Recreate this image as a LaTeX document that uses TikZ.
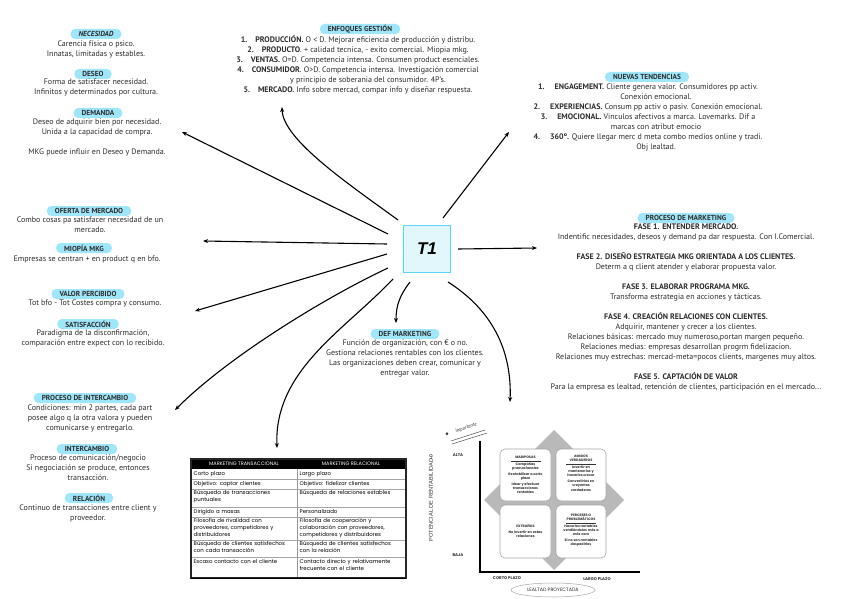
\documentclass[tikz,border=0pt]{standalone}
\usepackage{fontspec}
\setmainfont{PT Sans}
\newfontfamily\tabfont{Poppins}
\newfontfamily\tfont{Liberation Sans}
\usetikzlibrary{arrows.meta}
\definecolor{pillc}{RGB}{160,230,250}
\definecolor{tbord}{RGB}{95,215,240}
\definecolor{tfill}{RGB}{225,247,252}
\definecolor{txt}{RGB}{45,45,45}
\tikzset{
 pill/.style={fill=pillc, rounded corners=4.5pt, minimum height=10pt, inner xsep=8pt, inner ysep=0pt, text=txt, font=\fontsize{7.3}{8}\selectfont\bfseries},
 body/.style={align=center, font=\fontsize{8}{10}\selectfont, inner sep=0pt, anchor=north, text=txt},
 arr/.style={-{Stealth[length=5pt,width=4pt]}, line width=1.1pt},
 cell/.style={anchor=north west, inner sep=0pt, align=left, text width=104pt, font=\tabfont\fontsize{5.4}{7}\selectfont, text=black},
 head/.style={inner sep=0pt, font=\tabfont\fontsize{5}{6}\selectfont, text=white},
 quad/.style={fill=white, draw=gray!70, line width=0.6pt, rounded corners=5pt},
 qtxt/.style={align=center, inner sep=0pt, font=\tabfont\bfseries\fontsize{3.4}{4.2}\selectfont, text=black!80},
 axl/.style={inner sep=0pt, font=\tabfont\bfseries\fontsize{4}{5}\selectfont, text=black!80},
}
\begin{document}
\begin{tikzpicture}[x=1pt,y=-1pt]
\useasboundingbox[fill=white] (0,0) rectangle (848,599);

% ---------- centre ----------
\node[draw=tbord, fill=tfill, line width=1.6pt, minimum size=47pt, inner sep=0pt] (t1) at (427,249) {\tfont\bfseries\itshape\fontsize{17}{17}\selectfont T1};

% ---------- left column ----------
\node[pill] (nec) at (96,34) {\itshape NECESIDAD};
\node[body] (necb) at (96,41) {Carencia física o psico.\\Innatas, limitadas y estables.};
\node[pill] (des) at (93,74) {DESEO};
\node[body] (desb) at (96,79) {Forma de satisfacer necesidad.\\Infinitos y determinados por cultura.};
\node[pill] (dem) at (98,113) {DEMANDA};
\node[body] (demb) at (97,119) {Deseo de adquirir bien por necesidad.\\Unida a la capacidad de compra.\\[10pt]MKG puede influir en Deseo y Demanda.};

\node[pill] (ofe) at (89,211) {OFERTA DE MERCADO};
\node[body] (ofeb) at (90,217) {Combo cosas pa satisfacer necesidad de un\\mercado.};
\node[pill] (mio) at (84,248) {MIOPÍA MKG};
\node[body] (miob) at (87,256) {Empresas se centran + en product q en bfo.};

\node[pill] (val) at (88,294) {VALOR PERCIBIDO};
\node[body] (valb) at (95,300) {Tot bfo - Tot Costes compra y consumo.};
\node[pill] (sat) at (88,324) {SATISFACCIÓN};
\node[body] (satb) at (93,330) {Paradigma de la disconfirmación,\\comparación entre expect con lo recibido.};

\node[pill] (pin) at (85,398) {PROCESO DE INTERCAMBIO};
\node[body] (pinb) at (90,405) {Condiciones: min 2 partes, cada part\\posee algo q la otra valora y pueden\\comunicarse y entregarlo.};
\node[pill] (int) at (87,449) {INTERCAMBIO};
\node[body] (intb) at (88,455) {Proceso de comunicación/negocio\\Si negociación se produce, entonces\\transacción.};
\node[pill] (rel) at (89,498) {RELACIÓN};
\node[body] (relb) at (88,505) {Continuo de transacciones entre client y\\proveedor.};

% ---------- top centre ----------
\node[pill] (enf) at (360,29) {ENFOQUES GESTIÓN};
\node[body] (enfb) at (358,35) {\textbf{1.}\hspace{8pt}\textbf{PRODUCCIÓN.} O < D. Mejorar eficiencia de producción y distribu.\\
\textbf{2.}\hspace{8pt}\textbf{PRODUCTO}. + calidad tecnica, - exito comercial. Miopia mkg.\\
\textbf{3.}\hspace{8pt}\textbf{VENTAS.} O=D. Competencia intensa. Consumen product esenciales.\\
\textbf{4.}\hspace{8pt}\textbf{CONSUMIDOR}. O>D. Competencia intensa. Investigación comercial\\
\hspace{20pt}y principio de soberania del consumidor. 4P's.\\
\textbf{5.}\hspace{8pt}\textbf{MERCADO.} Info sobre mercad, compar info y diseñar respuesta.};

% ---------- right top ----------
\node[pill] (nue) at (647,77) {NUEVAS TENDENCIAS};
\node[body] (nueb) at (648,84) {\textbf{1.}\hspace{10pt}\textbf{ENGAGEMENT.} Cliente genera valor. Consumidores pp activ.\\
\hspace{16pt}Conexión emocional.\\
\textbf{2.}\hspace{10pt}\textbf{EXPERIENCIAS.} Consum pp activ o pasiv. Conexión emocional.\\
\textbf{3.}\hspace{10pt}\textbf{EMOCIONAL.} Vinculos afectivos a marca. Lovemarks. Dif a\\
\hspace{16pt}marcas con atribut emocio\\
\textbf{4.}\hspace{10pt}\textbf{360º.} Quiere llegar merc d meta combo medios online y tradi.\\
\hspace{16pt}Obj lealtad.};

% ---------- right middle ----------
\node[pill] (pmk) at (686,218) {PROCESO DE MARKETING};
\node[body] (pmkb) at (686,224) {\textbf{FASE 1. ENTENDER MERCADO.}\\
Indentific necesidades, deseos y demand pa dar respuesta. Con I.Comercial.\\[10pt]
\textbf{FASE 2. DISEÑO ESTRATEGIA MKG ORIENTADA A LOS CLIENTES.}\\
Determ a q client atender y elaborar propuesta valor.\\[10pt]
\textbf{FASE 3. ELABORAR PROGRAMA MKG.}\\
Transforma estrategia en acciones y tácticas.\\[10pt]
\textbf{FASE 4. CREACIÓN RELACIONES CON CLIENTES.}\\
Adquirir, mantener y crecer a los clientes.\\
Relaciones básicas: mercado muy numeroso,portan margen pequeño.\\
Relaciones medias: empresas desarrollan progrm fidelizacion.\\
Relaciones muy estrechas: mercad-meta=pocos clients, margenes muy altos.\\[10pt]
\textbf{FASE 5. CAPTACIÓN DE VALOR}\\
Para la empresa es lealtad, retención de clientes, participación en el mercado...};

% ---------- def marketing ----------
\node[pill] (def) at (405,334) {DEF MARKETING};
\node[body] (defb) at (405,340) {Función de organización, con € o no.\\Gestiona relaciones rentables con los clientes.\\Las organizaciones deben crear, comunicar y\\entregar valor.};

% ---------- arrows ----------
\coordinate (s1) at (398,220); \coordinate (e1) at (282,107);
\coordinate (s2) at (388,234); \coordinate (e2) at (182,132);
\coordinate (s3) at (387,244); \coordinate (e3) at (203,241);
\coordinate (s4) at (387,254); \coordinate (e4) at (195,311);
\coordinate (s5) at (388,268); \coordinate (e5) at (175,410);
\coordinate (s6) at (393,279); \coordinate (e6) at (277,448);
\coordinate (s7) at (410,282); \coordinate (e7) at (396,323);
\coordinate (s8) at (448,282); \coordinate (e8) at (510,402);
\coordinate (s9) at (458,249); \coordinate (e9) at (537,248);
\coordinate (s10) at (443,218); \coordinate (e10) at (509,132);
\draw[arr] (s1) .. controls (350,185) and (283,140) .. (e1);
\draw[arr] (s2) -- (e2);
\draw[arr] (s3) -- (e3);
\draw[arr] (s4) -- (e4);
\draw[arr] (s5) .. controls (330,295) and (230,355) .. (e5);
\draw[arr] (s6) .. controls (345,330) and (274,370) .. (e6);
\draw[arr] (s7) .. controls (400,295) and (396,305) .. (e7);
\draw[arr] (s8) .. controls (492,310) and (512,350) .. (e8);
\draw[arr] (s9) -- (e9);
\draw[arr] (s10) -- (e10);

% ---------- table ----------
\fill[black] (191,459) rectangle (406,469);
\foreach \yy in {479,489,507,517,540,557}{\draw[gray!70, line width=0.5pt] (191,\yy) -- (406,\yy);}
\draw[gray!80, line width=0.5pt] (297,469) -- (297,578);
\draw[black!85, line width=1.1pt] (191,459) rectangle (406,578);
\draw[black, line width=1.6pt] (191,578.5) -- (406,578.5);
\node[head] (h1) at (244,464) {MARKETING TRANSACCIONAL};
\node[head] (h2) at (351,464) {MARKETING RELACIONAL};
\node[cell] (c11) at (193.5,471) {Corto plazo};
\node[cell] (c12) at (299.5,471) {Largo plazo};
\node[cell] (c21) at (193.5,481) {Objetivo: captar clientes};
\node[cell] (c22) at (299.5,481) {Objetivo: fidelizar clientes};
\node[cell] (c31) at (193.5,490.5) {Búsqueda de transacciones\\puntuales};
\node[cell] (c32) at (299.5,490.5) {Búsqueda de relaciones estables};
\node[cell] (c41) at (193.5,509) {Dirigido a masas};
\node[cell] (c42) at (299.5,509) {Personalizado};
\node[cell] (c51) at (193.5,518.5) {Filosofía de rivalidad con\\proveedores, competidores y\\distribuidores};
\node[cell] (c52) at (299.5,518.5) {Filosofía de cooperación y\\colaboración con proveedores,\\competidores y distribuidores};
\node[cell] (c61) at (193.5,541.5) {Búsqueda de clientes satisfechos\\con cada transacción};
\node[cell] (c62) at (299.5,541.5) {Búsqueda de clientes satisfechos\\con la relación};
\node[cell] (c71) at (193.5,559.5) {Escaso contacto con el cliente};
\node[cell] (c72) at (299.5,559.5) {Contacto directo y relativamente\\frecuente con el cliente};

% ---------- quadrant figure ----------
\fill[gray!55] (554,430) -- (624,500) -- (554,570) -- (484,500) -- cycle;
\draw[quad] (500,449) rectangle (551,501);
\draw[quad] (556,449) rectangle (606,501);
\draw[quad] (500,505) rectangle (551,558);
\draw[quad] (556,505) rectangle (606,558);
\node[qtxt] (q1) at (525.5,475) {MARIPOSAS\\[-1.5pt]\rule{30pt}{0.3pt}\\Campañas\\promocionales\\[1.5pt]Rentabilizar a corto\\plazo\\[1.5pt]Idear y efectuar\\transacciones\\rentables};
\node[qtxt] (q2) at (581,473) {AMIGOS\\VERDADEROS\\[-1.5pt]\rule{30pt}{0.3pt}\\Invertir en\\mantenerlos y\\hacerlos crecer\\[1.5pt]Convertirlos en\\creyentes\\verdaderos};
\node[qtxt] (q3) at (525.5,531) {EXTRAÑOS\\[1.5pt]No invertir en estas\\relaciones};
\node[qtxt] (q4) at (581,530) {PERCEBES O\\PROBLEMÁTICOS\\[-1.5pt]\rule{30pt}{0.3pt}\\Hacerlos rentables\\vendiéndoles más a\\más caro\\[1.5pt]Si no son rentables\\despedirlos};
\draw[black, line width=2.2pt] (480,441) -- (480,573);
\draw[black, line width=2.2pt] (479,572) -- (640,572);
\node[axl] (alta) at (458,455) {ALTA};
\node[axl] (baja) at (458,555) {BAJA};
\node[inner sep=0pt, rotate=90, font=\tfont\fontsize{5.6}{6}\selectfont, text=black!80] (pot) at (431,500) {POTENCIAL DE RENTABILIDAD};
\node[axl] (cp) at (507,578) {CORTO PLAZO};
\node[axl] (lp) at (597,579) {LARGO PLAZO};
\node[inner sep=0pt, font=\tabfont\fontsize{4.8}{5}\selectfont, text=black!85] (lea) at (553,590) {LEALTAD PROYECTADA};
\draw[gray!70, line width=0.5pt] (553,590) ellipse (42pt and 7pt);
\node[inner sep=0pt, font=\fontsize{7}{7}\selectfont, text=black!80] (nine) at (431,457) {9};
\node[inner sep=0pt, font=\bfseries\fontsize{9}{9}\selectfont] (star) at (447,436) {*};
\node[inner sep=0pt, rotate=18, font=\itshape\fontsize{5}{5}\selectfont, text=black!80] (imp) at (466,428) {Importante};
\draw[black!70, line width=0.5pt] (451,441) -- (485,430);
\draw[black!70, line width=0.5pt] (452,444) -- (487,433);
\end{tikzpicture}
\end{document}
